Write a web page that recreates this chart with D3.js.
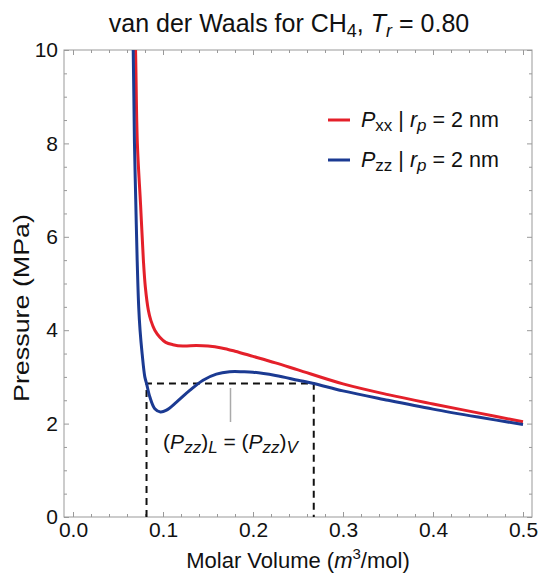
<!DOCTYPE html>
<html>
<meta charset="utf-8">
<script src="https://d3js.org/d3.v7.min.js"></script>
<style>
  body { margin: 0; background: #fff; }
  text { font-family: "Liberation Sans", Arial, sans-serif; fill: #111; }
</style>
<body>
<div id="chart"></div>
<script>
// values
var volRed  = [0.0680, 0.0695, 0.0715, 0.0751, 0.0782, 0.0804, 0.0837, 0.0865, 0.0909, 0.0965, 0.1030, 0.111, 0.122, 0.137, 0.150, 0.165, 0.180, 0.200, 0.225, 0.250, 0.300, 0.350, 0.400, 0.450, 0.500];
var presRed = [11.0,   10.0,   8.0,    6.68,   5.50,   4.92,   4.43,   4.21,   4.00,   3.85,   3.74,   3.69,  3.66,  3.67,  3.66,  3.62,  3.55,  3.44,  3.30,  3.15,  2.85,  2.62,  2.42,  2.23,  2.04];

var volBlue  = [0.0655, 0.0669, 0.0683, 0.0697, 0.0713, 0.0730, 0.0745, 0.0768, 0.0798, 0.0817, 0.0854, 0.0909, 0.0972, 0.1039, 0.115, 0.1297, 0.1445, 0.1593, 0.174, 0.1888, 0.200, 0.225, 0.250, 0.2675, 0.300, 0.350, 0.400, 0.450, 0.500];
var presBlue = [11.0,   10.0,   8.0,    6.80,   5.50,   4.50,   4.00,   3.50,   3.00,   2.86,   2.57,   2.32,   2.25,   2.29,   2.46,  2.71,   2.93,   3.06,   3.11,  3.11,   3.10,  3.03,  2.93,  2.86,   2.70,  2.50,  2.31,  2.14,  1.98];

// equal-area tie line
var volLiq = 0.0817, volVap = 0.2675, presSat = 2.86;

var xMajor = [0, 0.1, 0.2, 0.3, 0.4, 0.5];
var yMajor = [0, 2, 4, 6, 8, 10];

var width = 539, height = 579;
var plot = {left: 64, right: 532, top: 50, bottom: 517};

var x = d3.scaleLinear().domain([-0.01, 0.51]).range([plot.left, plot.right]);
var y = d3.scaleLinear().domain([0, 10]).range([plot.bottom, plot.top]);

var svg = d3.select("#chart").append("svg")
    .attr("width", width)
    .attr("height", height);

svg.append("clipPath").attr("id", "clip")
  .append("rect")
    .attr("x", plot.left).attr("y", plot.top)
    .attr("width", plot.right - plot.left)
    .attr("height", plot.bottom - plot.top);

// minor tick values
var xMinor = d3.range(0, 26).map(function(i) { return i * 0.02; })
    .filter(function(v) { return Math.abs(v * 10 - Math.round(v * 10)) > 1e-6; });
var yMinor = d3.range(0, 21).map(function(i) { return i * 0.5; })
    .filter(function(v) { return v % 2 !== 0; });

function tickAxis(axis, transform) {
  var g = svg.append("g").attr("transform", transform).call(axis);
  g.select(".domain").remove();
  g.selectAll("line").attr("stroke", "#999");
  return g;
}

// bottom
var gx = tickAxis(d3.axisBottom(x).tickValues(xMajor).tickSize(-5).tickPadding(5)
    .tickFormat(d3.format(".1f")), "translate(0," + plot.bottom + ")");
gx.selectAll("text").style("font-size", "21px").attr("fill", "#111");
tickAxis(d3.axisBottom(x).tickValues(xMinor).tickSize(-3).tickFormat(""), "translate(0," + plot.bottom + ")");
// top
tickAxis(d3.axisTop(x).tickValues(xMajor).tickSize(-5).tickFormat(""), "translate(0," + plot.top + ")");
tickAxis(d3.axisTop(x).tickValues(xMinor).tickSize(-3).tickFormat(""), "translate(0," + plot.top + ")");
// left
var gy = tickAxis(d3.axisLeft(y).tickValues(yMajor).tickSize(-5).tickPadding(6)
    .tickFormat(d3.format("d")), "translate(" + plot.left + ",0)");
gy.selectAll("text").style("font-size", "21px").attr("fill", "#111");
tickAxis(d3.axisLeft(y).tickValues(yMinor).tickSize(-3).tickFormat(""), "translate(" + plot.left + ",0)");
// right
tickAxis(d3.axisRight(y).tickValues(yMajor).tickSize(-5).tickFormat(""), "translate(" + plot.right + ",0)");
tickAxis(d3.axisRight(y).tickValues(yMinor).tickSize(-3).tickFormat(""), "translate(" + plot.right + ",0)");

// frame
svg.append("rect")
    .attr("x", plot.left).attr("y", plot.top)
    .attr("width", plot.right - plot.left)
    .attr("height", plot.bottom - plot.top)
    .attr("fill", "none")
    .attr("stroke", "#999")
    .attr("stroke-width", 1);

// dashed tie line
var dash = svg.append("g")
    .attr("stroke", "#111")
    .attr("stroke-width", 2)
    .attr("stroke-dasharray", "7,5")
    .attr("fill", "none");
dash.append("path")
    .attr("d", d3.line()([[x(volLiq), y(0)], [x(volLiq), y(presSat)], [x(volVap), y(presSat)], [x(volVap), y(0)]]));

// curves
var line = d3.line()
    .x(function(d) { return x(d[0]); })
    .y(function(d) { return y(d[1]); })
    .curve(d3.curveCatmullRom.alpha(0.5));

var curves = svg.append("g").attr("clip-path", "url(#clip)");
curves.append("path")
    .attr("d", line(d3.zip(volRed, presRed)))
    .attr("fill", "none")
    .attr("stroke", "#e4202a")
    .attr("stroke-width", 3);
curves.append("path")
    .attr("d", line(d3.zip(volBlue, presBlue)))
    .attr("fill", "none")
    .attr("stroke", "#1b3a92")
    .attr("stroke-width", 3);

// annotation
svg.append("line")
    .attr("x1", x(0.175)).attr("x2", x(0.175))
    .attr("y1", 388).attr("y2", 422)
    .attr("stroke", "#aaa")
    .attr("stroke-width", 1.5);

var ann = svg.append("text")
    .attr("x", x(0.175))
    .attr("y", 449)
    .attr("text-anchor", "middle")
    .style("font-size", "21px");
ann.append("tspan").text("(");
ann.append("tspan").style("font-style", "italic").text("P");
ann.append("tspan").style("font-style", "italic").style("font-size", "17px").attr("dy", 4).text("zz");
ann.append("tspan").attr("dy", -4).text(")");
ann.append("tspan").style("font-style", "italic").style("font-size", "17px").attr("dy", 4).text("L");
ann.append("tspan").attr("dy", -4).text(" = (");
ann.append("tspan").style("font-style", "italic").text("P");
ann.append("tspan").style("font-style", "italic").style("font-size", "17px").attr("dy", 4).text("zz");
ann.append("tspan").attr("dy", -4).text(")");
ann.append("tspan").style("font-style", "italic").style("font-size", "17px").attr("dy", 4).text("V");

// legend
var legend = [
  {color: "#e4202a", sub: "xx", y: 120},
  {color: "#1b3a92", sub: "zz", y: 160}
];
legend.forEach(function(d) {
  svg.append("line")
      .attr("x1", 328).attr("x2", 350)
      .attr("y1", d.y).attr("y2", d.y)
      .attr("stroke", d.color)
      .attr("stroke-width", 3);
  var t = svg.append("text")
      .attr("x", 361)
      .attr("y", d.y + 7)
      .style("font-size", "21.5px");
  t.append("tspan").style("font-style", "italic").text("P");
  t.append("tspan").style("font-size", "17px").attr("dy", 4).text(d.sub);
  t.append("tspan").attr("dy", -4).text(" | ");
  t.append("tspan").style("font-style", "italic").text("r");
  t.append("tspan").style("font-style", "italic").style("font-size", "17px").attr("dy", 4).text("p");
  t.append("tspan").attr("dy", -4).text(" = 2 nm");
});

// title
var title = svg.append("text")
    .attr("x", 289)
    .attr("y", 32)
    .attr("text-anchor", "middle")
    .style("font-size", "25px");
title.append("tspan").text("van der Waals for CH");
title.append("tspan").style("font-size", "18px").attr("dy", 5).text("4");
title.append("tspan").attr("dy", -5).text(", ");
title.append("tspan").style("font-style", "italic").text("T");
title.append("tspan").style("font-style", "italic").style("font-size", "18px").attr("dy", 5).text("r");
title.append("tspan").attr("dy", -5).text(" = 0.80");

// axis labels
var xl = svg.append("text")
    .attr("x", 298)
    .attr("y", 568)
    .attr("text-anchor", "middle")
    .style("font-size", "22px");
xl.append("tspan").text("Molar Volume (");
xl.append("tspan").style("font-style", "italic").text("m");
xl.append("tspan").style("font-size", "15px").attr("dy", -9).text("3");
xl.append("tspan").attr("dy", 9).text("/mol)");

svg.append("text")
    .attr("transform", "translate(29,308) rotate(-90)")
    .attr("text-anchor", "middle")
    .attr("textLength", 188)
    .attr("lengthAdjust", "spacingAndGlyphs")
    .style("font-size", "22px")
    .text("Pressure (MPa)");
</script>
</body>
</html>
